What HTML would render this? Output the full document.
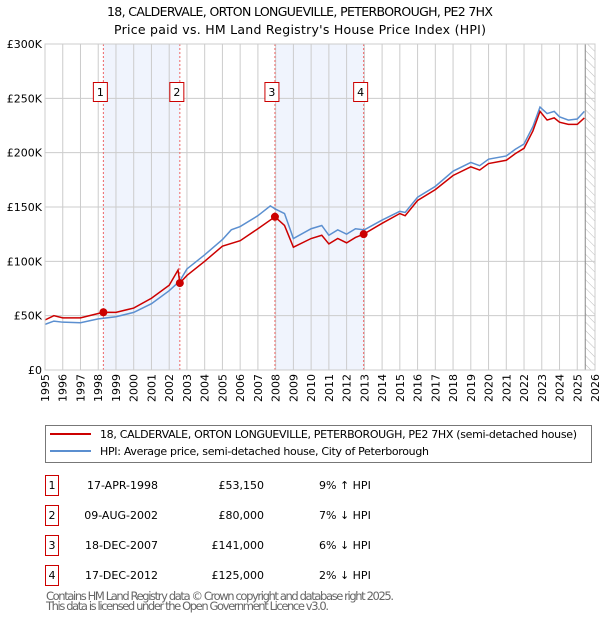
<!DOCTYPE html>
<html><head><meta charset="utf-8"><style>
html,body{margin:0;padding:0;background:#fff}
svg text{font-family:"DejaVu Sans","Liberation Sans",sans-serif}
</style></head><body>
<svg id="c" width="600" height="620" xmlns="http://www.w3.org/2000/svg">
<text x="300" y="16" text-anchor="middle" font-size="12.5" textLength="386">18, CALDERVALE, ORTON LONGUEVILLE, PETERBOROUGH, PE2 7HX</text>
<text x="300" y="34" text-anchor="middle" font-size="12.5" textLength="372">Price paid vs. HM Land Registry's House Price Index (HPI)</text>
<defs><pattern id="hatch" width="6" height="6" patternUnits="userSpaceOnUse" patternTransform="rotate(-45)"><line x1="0" y1="0" x2="0" y2="6" stroke="#bbb" stroke-width="1"/></pattern></defs>
<g id="plot"></g>
<rect x="45.5" y="425.5" width="546" height="37" fill="none" stroke="#777"/>
<line x1="50" y1="434" x2="91" y2="434" stroke="#cc0000" stroke-width="2"/>
<text x="100" y="438" font-size="11" textLength="477">18, CALDERVALE, ORTON LONGUEVILLE, PETERBOROUGH, PE2 7HX (semi-detached house)</text>
<line x1="50" y1="451" x2="91" y2="451" stroke="#5b8fd0" stroke-width="2"/>
<text x="100" y="455" font-size="11" textLength="329">HPI: Average price, semi-detached house, City of Peterborough</text>
<g id="table" font-size="11"></g>
<text x="46" y="600" font-size="11.5" fill="#666" textLength="348">Contains HM Land Registry data © Crown copyright and database right 2025.</text>
<text x="46" y="610" font-size="11.5" fill="#666" textLength="283">This data is licensed under the Open Government Licence v3.0.</text>
</svg>
<script>
const hpiYears=[1995,1995.5,1996,1997,1998,1999,2000,2001,2002,2002.6,2003,2004,2005,2005.5,2006,2007,2007.7,2008,2008.5,2009,2010,2010.6,2011,2011.5,2012,2012.5,2013,2014,2015,2015.3,2016,2017,2018,2019,2019.5,2020,2021,2021.5,2022,2022.5,2022.9,2023.3,2023.7,2024,2024.5,2025,2025.4];
const hpiValues=[42,45,44,43.5,47,49,53,61,73,82,93,106,120,129,132,142,151,148,144,121,130,133,124,129,125,130,129,138,146,145,159,169,183,191,188,194,197,203,208,224,242,236,238,233,230,231,238];
const redYears=[1995,1995.5,1996,1997,1998,1998.29,1999,2000,2001,2002,2002.5,2002.6,2003,2004,2005,2006,2007,2007.96,2008.5,2009,2010,2010.6,2011,2011.5,2012,2012.5,2012.96,2014,2015,2015.3,2016,2017,2018,2019,2019.5,2020,2021,2021.5,2022,2022.5,2022.9,2023.3,2023.7,2024,2024.5,2025,2025.4];
const redValues=[46,50,48,48,52,53.15,53,57,66,78,92,80,87,100,114,119,130,141,133,113,121,124,116,121,117,122,125,135,144,142,156,166,179,187,184,190,193,199,204,220,238,230,232,228,226,226,232];
const saleLabels=["1","2","3","4"];
const saleYears=[1998.29,2002.6,2007.96,2012.96];
const saleValues=[53.15,80,141,125];
const saleDates=["17-APR-1998","09-AUG-2002","18-DEC-2007","17-DEC-2012"];
const salePrices=["£53,150","£80,000","£141,000","£125,000"];
const saleDiffs=["9% ↑ HPI","7% ↓ HPI","6% ↓ HPI","2% ↓ HPI"];
const yTicks=[0,50,100,150,200,250,300];
const yTickLabels=["£0","£50K","£100K","£150K","£200K","£250K","£300K"];
const xTicks=[1995,1996,1997,1998,1999,2000,2001,2002,2003,2004,2005,2006,2007,2008,2009,2010,2011,2012,2013,2014,2015,2016,2017,2018,2019,2020,2021,2022,2023,2024,2025,2026];

const X0=45,X1=595,Y0=370,Y1=44;
const xs=y=>X0+(y-1995)/31*(X1-X0);
const ys=v=>Y0-v/300*(Y0-Y1);
const NS="http://www.w3.org/2000/svg";
const g=document.getElementById('plot');
function mk(tag,attrs,parent){const e=document.createElementNS(NS,tag);for(const k in attrs)e.setAttribute(k,attrs[k]);(parent||g).appendChild(e);return e;}
for(let i=0;i<4;i+=2){
  const r=mk('rect',{x:xs(saleYears[i]),y:Y1,width:xs(saleYears[i+1])-xs(saleYears[i]),height:Y0-Y1,fill:'#f0f4fd'});
  
  
}
const h=mk('rect',{x:xs(2025.45),y:Y1,width:X1-xs(2025.45),height:Y0-Y1,fill:'url(#hatch)'});


xTicks.forEach(t=>{
  mk('line',{x1:xs(t),x2:xs(t),y1:Y1,y2:Y0,stroke:'#ccc','stroke-width':1});
  const tx=mk('text',{x:0,y:0,'font-size':11,'text-anchor':'end',transform:`translate(${xs(t)+4},${Y0+4}) rotate(-90)`});
  tx.textContent=t;
  
  
});
yTicks.forEach((t,i)=>{
  mk('line',{x1:X0,x2:X1,y1:ys(t),y2:ys(t),stroke:'#ccc','stroke-width':1});
  const tx=mk('text',{x:X0-3,y:ys(t)+4,'font-size':11,'text-anchor':'end'});
  tx.textContent=yTickLabels[i];
  
  
});
mk('line',{x1:xs(2025.45),x2:xs(2025.45),y1:Y1,y2:Y0,stroke:'#888','stroke-width':1});
saleYears.forEach(s=>{mk('line',{x1:xs(s),x2:xs(s),y1:Y1,y2:Y0,stroke:'#e66','stroke-width':1,'stroke-dasharray':'2,2'});});
const hp=mk('polyline',{points:hpiYears.map((y,i)=>xs(y)+','+ys(hpiValues[i])).join(' '),fill:'none',stroke:'#5b8fd0','stroke-width':1.5});


const rp=mk('polyline',{points:redYears.map((y,i)=>xs(y)+','+ys(redValues[i])).join(' '),fill:'none',stroke:'#cc0000','stroke-width':1.5});


saleYears.forEach((s,i)=>{
  const c=mk('circle',{cx:xs(s),cy:ys(saleValues[i]),r:4,fill:'#cc0000'});
  
  
  const b=mk('rect',{x:xs(s)-10,y:82.5,width:14,height:19,fill:'#fff',stroke:'#cc0000'});
  
  
  const t=mk('text',{x:xs(s)-3,y:96,'font-size':11,'text-anchor':'middle'});
  t.textContent=saleLabels[i];
});
mk('rect',{x:X0,y:Y1,width:X1-X0,height:Y0-Y1,fill:'none',stroke:'#ccc'});
const tb=document.getElementById('table');
saleLabels.forEach((l,i)=>{
  const y=485+i*30;
  const b=mk('rect',{x:45.5,y:y-9.5,width:13,height:20,fill:'#fff',stroke:'#cc0000'},tb);
  
  
  const t0=mk('text',{x:52,y:y+4,'text-anchor':'middle'},tb);t0.textContent=l;
  const t1=mk('text',{x:158,y:y+4,'text-anchor':'end'},tb);t1.textContent=saleDates[i];
  
  
  const t2=mk('text',{x:264,y:y+4,'text-anchor':'end'},tb);t2.textContent=salePrices[i];
  
  
  const t3=mk('text',{x:319,y:y+4},tb);t3.textContent=saleDiffs[i];
  
  
});
</script>
</body></html>
